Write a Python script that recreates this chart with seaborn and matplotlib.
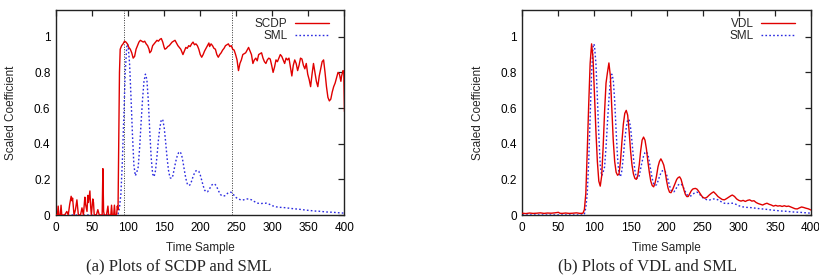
import numpy as np
import pandas as pd
import matplotlib
matplotlib.use("Agg")
import matplotlib.pyplot as plt
import seaborn as sns

# ---------------- data ----------------
scdp_t = [0, 2, 3, 4, 6, 7, 8, 12, 15, 17, 19, 21, 22, 23, 25, 27, 29, 31, 34, 36, 38, 40, 41, 43,
          44, 45, 47, 48, 49, 51, 52, 53, 56, 58, 60, 64, 65, 66, 67, 70, 72, 73, 76, 77, 78, 80,
          81, 82, 84, 85, 86, 87, 88, 89, 91, 93, 95, 97, 99, 101, 103, 105, 107, 109, 111, 113,
          115, 117, 119, 121, 123, 125, 127, 129, 130, 132, 134, 136, 138, 140, 142, 144, 146,
          148, 150, 151, 153, 155, 157, 159, 161, 163, 165, 167, 169, 171, 173, 175, 176, 178,
          180, 182, 184, 186, 188, 190, 192, 194, 196, 198, 200, 202, 204, 206, 208, 210, 212,
          213, 215, 217, 219, 221, 223, 225, 227, 229, 231, 233, 235, 237, 239, 241, 243, 245,
          247, 249, 251, 253, 255, 257, 259, 261, 263, 265, 267, 269, 271, 273, 275, 277, 279,
          281, 283, 285, 287, 289, 291, 293, 295, 297, 299, 301, 303, 305, 307, 309, 311, 313,
          315, 317, 319, 321, 323, 325, 327, 329, 331, 333, 335, 337, 339, 341, 343, 345, 347,
          349, 351, 353, 355, 357, 359, 361, 363, 365, 367, 369, 371, 373, 375, 377, 379, 381,
          383, 385, 387, 389, 391, 393, 395, 396, 398, 399, 400]
scdp_v = [0.0, 0.0, 0.05, 0.0, 0.0, 0.055, 0.0, 0.0, 0.02, 0.0, 0.06, 0.105, 0.08, 0.095, 0.0, 0.03,
          0.085, 0.0, 0.0, 0.04, 0.0, 0.1, 0.06, 0.02, 0.11, 0.07, 0.135, 0.05, 0.0, 0.09, 0.07,
          0.0, 0.0, 0.03, 0.0, 0.0, 0.26, 0.02, 0.0, 0.0, 0.05, 0.0, 0.0, 0.055, 0.0, 0.0, 0.055,
          0.0, 0.0, 0.05, 0.03, 0.4, 0.8, 0.93, 0.95, 0.96, 0.975, 0.97, 0.96, 0.94, 0.93, 0.91,
          0.88, 0.89, 0.93, 0.95, 0.97, 0.98, 0.975, 0.97, 0.975, 0.96, 0.95, 0.93, 0.91, 0.92,
          0.95, 0.96, 0.97, 0.98, 0.975, 0.985, 0.99, 0.97, 0.94, 0.93, 0.935, 0.945, 0.95, 0.96,
          0.97, 0.975, 0.98, 0.965, 0.95, 0.94, 0.93, 0.91, 0.9, 0.92, 0.94, 0.935, 0.95, 0.945,
          0.96, 0.97, 0.955, 0.96, 0.95, 0.93, 0.9, 0.885, 0.9, 0.92, 0.935, 0.95, 0.965, 0.945,
          0.96, 0.95, 0.935, 0.93, 0.9, 0.885, 0.9, 0.91, 0.925, 0.935, 0.95, 0.955, 0.96, 0.945,
          0.95, 0.93, 0.925, 0.9, 0.87, 0.81, 0.85, 0.87, 0.9, 0.905, 0.91, 0.925, 0.94, 0.92,
          0.9, 0.85, 0.87, 0.88, 0.865, 0.9, 0.905, 0.91, 0.88, 0.86, 0.85, 0.87, 0.88, 0.875,
          0.84, 0.8, 0.83, 0.87, 0.86, 0.88, 0.9, 0.89, 0.87, 0.85, 0.88, 0.87, 0.88, 0.83, 0.78,
          0.84, 0.87, 0.85, 0.81, 0.84, 0.88, 0.875, 0.84, 0.82, 0.85, 0.79, 0.76, 0.72, 0.79,
          0.85, 0.8, 0.75, 0.72, 0.78, 0.82, 0.86, 0.87, 0.8, 0.72, 0.66, 0.64, 0.65, 0.69, 0.72,
          0.74, 0.77, 0.8, 0.79, 0.75, 0.78, 0.81, 0.8, 0.58]

sml_t = [0, 84, 86, 88, 90, 92, 94, 96, 98, 99, 100, 102, 104, 106, 108, 110, 112, 114, 116, 118,
         120, 122, 124, 126, 128, 130, 132, 134, 136, 138, 140, 142, 144, 146, 148, 150, 152, 154,
         156, 158, 160, 162, 164, 166, 168, 170, 172, 174, 176, 178, 180, 182, 184, 186, 188, 190,
         192, 194, 196, 198, 200, 202, 204, 206, 208, 210, 212, 214, 216, 218, 220, 222, 224, 226,
         228, 230, 232, 234, 236, 238, 240, 242, 244, 246, 248, 250, 253, 256, 259, 262, 265, 268,
         271, 274, 277, 280, 284, 288, 292, 296, 300, 305, 310, 315, 320, 325, 330, 335, 340, 345,
         350, 355, 360, 365, 370, 375, 380, 385, 390, 395, 400]
sml_v = [0.0, 0.0, 0.005, 0.04, 0.12, 0.3, 0.55, 0.8, 0.94, 0.96, 0.95, 0.85, 0.66, 0.45, 0.28,
         0.22, 0.24, 0.27, 0.38, 0.52, 0.65, 0.75, 0.79, 0.76, 0.64, 0.47, 0.32, 0.23, 0.215, 0.25,
         0.33, 0.42, 0.49, 0.535, 0.535, 0.49, 0.41, 0.32, 0.25, 0.21, 0.205, 0.22, 0.26, 0.3, 0.33,
         0.35, 0.355, 0.34, 0.3, 0.25, 0.205, 0.175, 0.165, 0.17, 0.19, 0.215, 0.235, 0.248, 0.25,
         0.245, 0.225, 0.195, 0.165, 0.14, 0.13, 0.13, 0.14, 0.155, 0.168, 0.174, 0.174, 0.165,
         0.148, 0.13, 0.115, 0.108, 0.106, 0.108, 0.115, 0.122, 0.127, 0.128, 0.125, 0.115, 0.105,
         0.097, 0.09, 0.085, 0.084, 0.087, 0.09, 0.09, 0.085, 0.078, 0.071, 0.066, 0.064, 0.066,
         0.066, 0.06, 0.052, 0.046, 0.043, 0.042, 0.04, 0.037, 0.035, 0.033, 0.031, 0.028, 0.026,
         0.024, 0.022, 0.021, 0.019, 0.017, 0.016, 0.015, 0.013, 0.012, 0.01]

vdl_t = [0, 5, 10, 15, 20, 25, 30, 35, 40, 45, 50, 52, 55, 60, 65, 70, 75, 80, 84, 86, 88, 90, 92,
         94, 96, 98, 100, 102, 104, 106, 108, 110, 112, 114, 116, 118, 120, 122, 124, 126, 128,
         130, 132, 134, 136, 138, 140, 142, 144, 146, 148, 150, 152, 154, 156, 158, 160, 162, 164,
         166, 168, 170, 172, 174, 176, 178, 180, 182, 184, 186, 188, 190, 192, 194, 196, 198, 200,
         202, 204, 206, 208, 210, 212, 214, 216, 218, 220, 222, 224, 226, 228, 230, 232, 234, 236,
         238, 240, 242, 244, 246, 248, 250, 253, 256, 259, 262, 265, 268, 271, 274, 277, 280, 283,
         286, 289, 291, 294, 297, 300, 303, 306, 309, 312, 315, 318, 321, 324, 327, 330, 333, 336,
         339, 342, 345, 348, 351, 354, 357, 360, 363, 366, 369, 372, 375, 378, 381, 384, 387, 390,
         393, 396, 400]
vdl_v = [0.01, 0.008, 0.011, 0.009, 0.01, 0.012, 0.009, 0.011, 0.01, 0.012, 0.015, 0.01, 0.009,
         0.011, 0.009, 0.01, 0.012, 0.009, 0.01, 0.03, 0.12, 0.36, 0.62, 0.85, 0.96, 0.88, 0.68,
         0.47, 0.3, 0.19, 0.162, 0.22, 0.38, 0.58, 0.74, 0.8, 0.853, 0.78, 0.6, 0.42, 0.3, 0.24,
         0.223, 0.23, 0.3, 0.41, 0.51, 0.57, 0.587, 0.56, 0.47, 0.36, 0.28, 0.23, 0.205, 0.2, 0.22,
         0.28, 0.36, 0.42, 0.437, 0.42, 0.37, 0.3, 0.24, 0.19, 0.165, 0.158, 0.18, 0.22, 0.27, 0.3,
         0.315, 0.3, 0.28, 0.24, 0.19, 0.15, 0.128, 0.125, 0.14, 0.16, 0.18, 0.2, 0.21, 0.214, 0.2,
         0.17, 0.14, 0.115, 0.103, 0.104, 0.12, 0.135, 0.145, 0.148, 0.149, 0.145, 0.135, 0.122,
         0.11, 0.1, 0.094, 0.1, 0.112, 0.122, 0.13, 0.118, 0.104, 0.095, 0.087, 0.085, 0.092, 0.1,
         0.108, 0.112, 0.104, 0.09, 0.082, 0.078, 0.082, 0.076, 0.082, 0.085, 0.078, 0.08, 0.07,
         0.064, 0.06, 0.056, 0.062, 0.066, 0.06, 0.056, 0.05, 0.054, 0.05, 0.052, 0.048, 0.052,
         0.048, 0.05, 0.045, 0.04, 0.035, 0.034, 0.04, 0.045, 0.042, 0.038, 0.035, 0.028]

marker_lines = [94, 244]
x_ticks = [0, 50, 100, 150, 200, 250, 300, 350, 400]
y_ticks = [0, 0.2, 0.4, 0.6, 0.8, 1]
captions = ["(a) Plots of SCDP and SML", "(b) Plots of VDL and SML"]

# ---------------- style ----------------
sns.set_style("white")
plt.rcParams['font.family'] = ['Liberation Sans', 'DejaVu Sans']
plt.rcParams['axes.linewidth'] = 1.0
plt.rcParams['axes.edgecolor'] = '#222222'

RED = '#e00000'
BLUE = '#2a2ae0'
DOT = (0, (1.2, 1.6))
FS = 8.5

fig = plt.figure(figsize=(8.2, 2.78), dpi=100)
ax1 = fig.add_axes([56 / 820, 1 - 215 / 278, (344.5 - 56) / 820, (215 - 10) / 278])
ax2 = fig.add_axes([522.3 / 820, 1 - 215 / 278, (811 - 522.3) / 820, (215 - 10) / 278])

df_scdp = pd.DataFrame({"t": scdp_t, "v": scdp_v})
df_sml = pd.DataFrame({"t": sml_t, "v": sml_v})
df_vdl = pd.DataFrame({"t": vdl_t, "v": vdl_v})

# left panel
for xv in marker_lines:
    ax1.axvline(xv, color='#333333', lw=0.7, linestyle=(0, (1, 1.5)), zorder=1)
sns.lineplot(data=df_scdp, x="t", y="v", ax=ax1, color=RED, lw=1.0, label="SCDP", zorder=3)
sns.lineplot(data=df_sml, x="t", y="v", ax=ax1, color=BLUE, lw=1.0, linestyle=DOT, label="SML", zorder=2)

# right panel
sns.lineplot(data=df_vdl, x="t", y="v", ax=ax2, color=RED, lw=1.0, label="VDL", zorder=3)
sns.lineplot(data=df_sml, x="t", y="v", ax=ax2, color=BLUE, lw=1.0, linestyle=DOT, label="SML", zorder=2)

for ax, cap, cx in [(ax1, captions[0], 0.218), (ax2, captions[1], 0.79)]:
    ax.set_xlim(0, 400)
    ax.set_ylim(0, 1.15)
    ax.set_xticks(x_ticks)
    ax.set_yticks(y_ticks)
    ax.set_yticklabels(["%g" % v for v in y_ticks])
    ax.tick_params(direction='in', length=4, width=0.9, top=True, right=True,
                   labelsize=FS, colors='#222222', labelcolor='black')
    ax.tick_params(axis='x', pad=5)
    ax.tick_params(axis='y', pad=4)
    ax.set_xlabel("Time Sample", fontsize=FS, labelpad=6)
    ax.set_ylabel("Scaled Coefficient", fontsize=FS, labelpad=12)
    leg = ax.legend(loc='upper right', bbox_to_anchor=(1 - 8 / 288.5, 1.0), frameon=False,
                    markerfirst=False, fontsize=FS, handlelength=2.9, handletextpad=0.6,
                    labelspacing=0.0, borderaxespad=0.25)
    for s in ax.spines.values():
        s.set_visible(True)
    fig.text(cx, 0.041, cap, ha='center', va='center', fontsize=12,
             family=['Liberation Serif', 'DejaVu Serif'])

fig.savefig("out.png", dpi=100)
